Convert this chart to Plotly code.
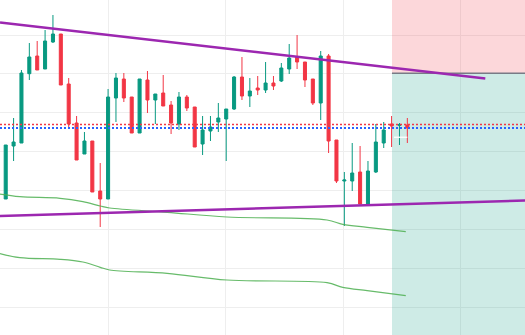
import plotly.graph_objects as go

# ---- candle data (bar index, OHLC in price units) ----
bar_index = list(range(-1, 52))
opens = [16.0, 14.1, 19.4, 19.7, 26.63, 28.4, 27.1, 29.8, 30.6, 25.6, 21.7, 18.6, 19.9, 14.9,
         14.1, 24.2, 26.1, 24.3, 20.7, 26.0, 24.0, 24.7, 23.5, 21.6, 24.3, 23.3, 19.6, 20.9,
         21.8, 22.1, 23.1, 26.3, 24.4, 25.2, 25.0, 25.7, 25.9, 27.1, 28.3, 27.8, 26.1, 23.7,
         28.4, 20.0, 15.9, 15.9, 16.8, 13.6, 16.8, 19.7, 21.6, 21.47, 21.5]
highs = [16.0, 19.5, 22.2, 27.0, 29.7, 29.9, 31.0, 32.5, 30.6, 26.2, 22.4, 20.8, 19.9, 17.7,
         25.1, 26.7, 26.7, 24.3, 26.1, 26.9, 24.6, 26.5, 23.9, 24.8, 24.5, 23.3, 22.4, 22.4,
         23.7, 23.1, 26.4, 28.3, 26.2, 26.4, 27.8, 26.4, 27.7, 29.6, 30.5, 27.8, 26.1, 28.9,
         28.6, 20.0, 16.8, 19.7, 19.4, 17.9, 21.6, 21.8, 22.4, 21.7, 22.2]
lows = [14.1, 14.1, 17.9, 19.7, 26.0, 27.0, 27.1, 29.7, 25.5, 21.3, 18.0, 18.6, 14.8, 11.3,
        14.1, 21.8, 23.8, 20.7, 20.7, 22.7, 21.6, 23.4, 20.6, 21.0, 22.9, 19.3, 18.5, 19.9,
        20.8, 17.9, 23.0, 24.0, 23.3, 24.5, 24.7, 25.0, 25.8, 26.6, 27.1, 25.3, 23.5, 22.0,
        18.7, 15.7, 11.4, 14.9, 13.6, 13.6, 16.7, 19.2, 19.3, 19.5, 19.7]
closes = [14.1, 19.5, 19.8, 26.7, 28.3, 27.0, 29.9, 30.6, 25.5, 21.6, 18.0, 19.9, 14.8, 14.1,
          24.3, 26.2, 24.2, 20.7, 26.1, 24.0, 24.6, 23.4, 21.7, 24.3, 23.2, 19.3, 21.0, 21.3,
          22.2, 23.1, 26.3, 24.4, 24.9, 25.0, 25.7, 25.4, 27.2, 28.2, 27.8, 26.0, 23.7, 28.4,
          19.9, 15.9, 16.0, 16.7, 13.6, 16.9, 19.8, 21.0, 21.4, 21.53, 21.2]

# ---- indicator lines ----
band_upper_x = [-1, 1.8, 6.9, 9.8, 12.0, 13.2, 20.5, 28.1, 40.8, 42.8, 45.9, 50.8]
band_upper_y = [14.62, 14.33, 14.17, 13.83, 13.4, 13.2, 12.77, 12.3, 12.0, 11.57, 11.27, 10.83]
band_lower_x = band_upper_x
band_lower_y = [8.69, 8.23, 8.07, 7.8, 7.27, 7.0, 6.67, 6.0, 5.73, 5.27, 4.93, 4.43]

trend_upper_x = [-0.72, 60.9]
trend_upper_y = [31.75, 26.15]
trend_lower_x = [-1, 67]
trend_lower_y = [12.39, 13.97]

price_red = 21.55
price_blue = 21.2

zone_start = 49.05
zone_entry = 26.67
white_mark_x = [49.3, 51.0]
white_mark_y = [20.27, 20.27]

X_RANGE = [-0.724, 65.94]
Y_RANGE = [0.5, 34.0]

GREEN = "#089981"
RED = "#f23645"
PURPLE = "#9c27b0"

fig = go.Figure()

fig.add_trace(go.Scatter(x=band_upper_x, y=band_upper_y, mode="lines",
                         line=dict(color="rgba(76,175,80,0.85)", width=1.2, shape="spline"),
                         hoverinfo="skip"))
fig.add_trace(go.Scatter(x=band_lower_x, y=band_lower_y, mode="lines",
                         line=dict(color="rgba(76,175,80,0.85)", width=1.2, shape="spline"),
                         hoverinfo="skip"))

fig.add_trace(go.Candlestick(
    x=bar_index, open=opens, high=highs, low=lows, close=closes,
    increasing=dict(line=dict(color=GREEN, width=1), fillcolor=GREEN),
    decreasing=dict(line=dict(color=RED, width=1), fillcolor=RED),
    whiskerwidth=0,
))

fig.add_trace(go.Scatter(x=trend_upper_x, y=trend_upper_y, mode="lines",
                         line=dict(color=PURPLE, width=2.5), hoverinfo="skip"))
fig.add_trace(go.Scatter(x=trend_lower_x, y=trend_lower_y, mode="lines",
                         line=dict(color=PURPLE, width=2.5), hoverinfo="skip"))

fig.add_trace(go.Scatter(x=[X_RANGE[0], X_RANGE[1]], y=[price_red, price_red], mode="lines",
                         line=dict(color=RED, width=1.3, dash="2px,2px"), hoverinfo="skip"))
fig.add_trace(go.Scatter(x=[X_RANGE[0], X_RANGE[1]], y=[price_blue, price_blue], mode="lines",
                         line=dict(color="#2962ff", width=2, dash="2px,2px"), hoverinfo="skip"))
fig.add_trace(go.Scatter(x=white_mark_x, y=white_mark_y, mode="lines",
                         line=dict(color="rgba(255,255,255,0.9)", width=1.5), hoverinfo="skip"))

# position zones
fig.add_shape(type="rect", x0=zone_start, x1=X_RANGE[1] + 1, y0=zone_entry, y1=Y_RANGE[1] + 1,
              fillcolor="rgba(242,54,69,0.2)", line_width=0, layer="between")
fig.add_shape(type="rect", x0=zone_start, x1=X_RANGE[1] + 1, y0=Y_RANGE[0] - 1, y1=zone_entry,
              fillcolor="rgba(8,153,129,0.2)", line_width=0, layer="between")
fig.add_shape(type="line", x0=zone_start, x1=X_RANGE[1] + 1, y0=zone_entry, y1=zone_entry,
              line=dict(color="#787b86", width=1.5), layer="between")

fig.update_layout(
    width=525, height=335,
    margin=dict(l=0, r=0, t=0, b=0),
    paper_bgcolor="white", plot_bgcolor="white",
    showlegend=False,
    boxgap=0.45,
    xaxis=dict(range=X_RANGE, rangeslider=dict(visible=False), showticklabels=False,
               tickmode="array", tickvals=[13, 27.97, 42.83, 57.81],
               showgrid=True, gridcolor="#eeeeee", gridwidth=1, zeroline=False, showline=False,
               ticks=""),
    yaxis=dict(range=Y_RANGE, showticklabels=False, tick0=30.5, dtick=3.89,
               showgrid=True, gridcolor="#eeeeee", gridwidth=1, zeroline=False, showline=False,
               ticks=""),
)

fig.write_html("out.html")
